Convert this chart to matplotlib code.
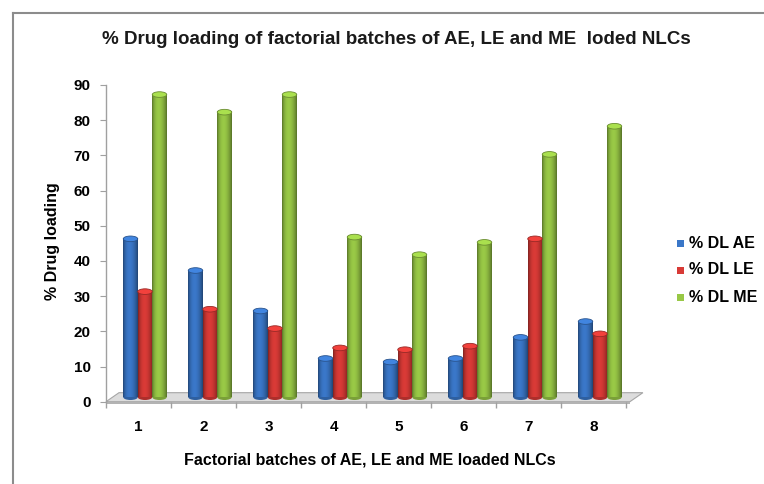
import matplotlib

matplotlib.use("Agg")

import numpy as np
import matplotlib.pyplot as plt
from matplotlib.patches import Ellipse, Polygon, Rectangle
from matplotlib.lines import Line2D
from matplotlib.colors import to_rgb


batches = ["1", "2", "3", "4", "5", "6", "7", "8"]
series_names = ["% DL AE", "% DL LE", "% DL ME"]
dl_ae = [45, 36, 24.5, 11, 10, 11, 17, 21.5]
dl_le = [30, 25, 19.5, 14, 13.5, 14.5, 45, 18]
dl_me = [86, 81, 86, 45.5, 40.5, 44, 69, 77]
yticks = [0, 10, 20, 30, 40, 50, 60, 70, 80, 90]

COLORS = ["#3a77c8", "#d83a36", "#98c846"]
FONT = "Liberation Sans"

W, H = 764, 484
# pseudo-3d depth offsets (data units)
DEPTH_X, DEPTH_Y = 0.2, 2.56
BAR_W = 0.223


def shade_row(color, n=64):
    """Horizontal shading strip for a cylinder body."""
    t = np.linspace(0, 1, n)
    light = 0.55 + 0.55 * np.sin(np.pi * t) ** 0.7 * (1 - 0.35 * t)
    base = np.array(to_rgb(color))
    row = np.clip(base[None, :] * light[:, None], 0, 1)
    return row[None, :, :]


def draw_cylinder(ax, x0, bottom, top, color):
    ax.imshow(shade_row(color), extent=(x0, x0 + BAR_W, bottom, top),
              aspect="auto", interpolation="bilinear", zorder=3)
    cap_h = 1.6
    body = np.array(to_rgb(color))
    ax.add_patch(Ellipse((x0 + BAR_W / 2, bottom), BAR_W, cap_h,
                         facecolor=body * 0.8, edgecolor="none", zorder=2.9))
    ax.add_patch(Ellipse((x0 + BAR_W / 2, top), BAR_W, cap_h,
                         facecolor=np.clip(body * 1.12, 0, 1),
                         edgecolor=body * 0.7, linewidth=0.6, zorder=3.1))


def main():
    fig = plt.figure(figsize=(W / 100, H / 100), dpi=100)
    ax = fig.add_axes([106 / W, 1 - 401.7 / H, 520 / W, 316.7 / H])

    n = len(batches)
    xs = np.arange(1, n + 1)
    ax.set_xlim(0.5, n + 0.5)
    ax.set_ylim(0, 90)

    # floor
    floor = Polygon([(0.5, 0), (n + 0.5 + 0.06, 0), (n + 0.5 + 0.06 + DEPTH_X, DEPTH_Y),
                     (0.5 + DEPTH_X, DEPTH_Y)], closed=True,
                    facecolor="#dcdcdc", edgecolor="#a6a6a6", linewidth=0.8,
                    zorder=1, clip_on=False)
    ax.add_patch(floor)
    ax.add_patch(Rectangle((0.5, -0.6), n + 0.06, 0.6, facecolor="#b3b3b3",
                           edgecolor="none", zorder=1, clip_on=False))

    for j, vals in enumerate([dl_ae, dl_le, dl_me]):
        for x, v in zip(xs, vals):
            x0 = x - 1.5 * BAR_W + j * BAR_W + DEPTH_X / 2
            draw_cylinder(ax, x0, DEPTH_Y / 2, v + DEPTH_Y / 2, COLORS[j])

    for s in ["top", "right", "bottom"]:
        ax.spines[s].set_visible(False)
    ax.spines["left"].set_color("#a0a0a0")
    ax.spines["left"].set_linewidth(1.0)

    ax.set_yticks(yticks)
    ax.set_yticklabels([str(t) for t in yticks], fontfamily=FONT,
                       fontweight="bold", fontsize=11)
    ax.tick_params(axis="y", length=4, color="#a0a0a0", pad=7)

    ax.set_xticks(xs)
    ax.set_xticklabels(batches, fontfamily=FONT, fontweight="bold", fontsize=11)
    ax.set_xticks(np.arange(0.5, n + 1), minor=True)
    ax.tick_params(axis="x", which="major", length=0, pad=13)
    ax.tick_params(axis="x", which="minor", length=4, color="#a0a0a0", width=1.0)
    ax.set_facecolor("none")

    fig.text(396 / W, 1 - 40 / H,
             "% Drug loading of factorial batches of AE, LE and ME  loded NLCs",
             ha="center", va="center", fontfamily=FONT, fontweight="bold",
             fontsize=13.5, color="#1a1a1a")
    fig.text(370 / W, 1 - 460 / H, "Factorial batches of AE, LE and ME loaded NLCs",
             ha="center", va="center", fontfamily=FONT, fontweight="bold",
             fontsize=11.5)
    fig.text(52 / W, 1 - 241 / H, "% Drug loading", rotation=90,
             ha="center", va="center", fontfamily=FONT, fontweight="bold",
             fontsize=11.5)

    # legend
    for k, name in enumerate(series_names):
        yc = 243 + 27 * k
        fig.patches.append(Rectangle((677 / W, 1 - (yc + 3.5) / H), 7 / W, 7 / H,
                                     transform=fig.transFigure, facecolor=COLORS[k],
                                     edgecolor="none"))
        fig.text(689 / W, 1 - yc / H, name, ha="left", va="center",
                 fontfamily=FONT, fontweight="bold", fontsize=11.5)

    # chart area frame
    fig.add_artist(Line2D([12.5 / W, 12.5 / W], [0, 1 - 13 / H],
                          transform=fig.transFigure, color="#8c8c8c", lw=1.5))
    fig.add_artist(Line2D([12.5 / W, 1], [1 - 13 / H, 1 - 13 / H],
                          transform=fig.transFigure, color="#8c8c8c", lw=1.5))

    fig.savefig("out.png", dpi=100)


if __name__ == "__main__":
    main()
